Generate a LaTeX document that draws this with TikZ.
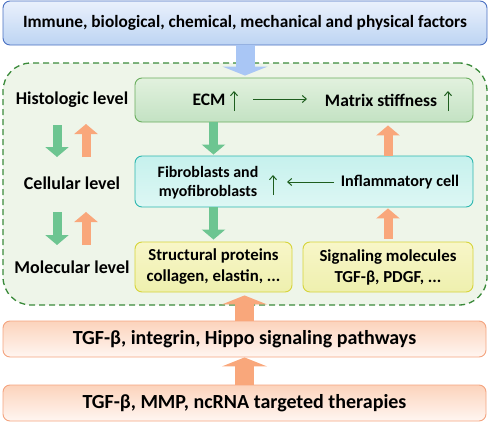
\documentclass[tikz,border=0pt]{standalone}
\usepackage{fontspec}
\setmainfont{Carlito}
\usetikzlibrary{arrows.meta,calc}
\definecolor{bluebd}{HTML}{4A70C2}
\definecolor{bluetop}{HTML}{EAF1FC}
\definecolor{bluebot}{HTML}{BDD4F3}
\definecolor{bluearr}{HTML}{A9C6F5}
\definecolor{regfill}{HTML}{EEF5E9}
\definecolor{regline}{HTML}{3A8A3A}
\definecolor{ecmbd}{HTML}{6AAE5E}
\definecolor{ecmtop}{HTML}{E2F1DE}
\definecolor{ecmbot}{HTML}{C3E2C3}
\definecolor{cyanbd}{HTML}{2DB7AF}
\definecolor{cyantop}{HTML}{C6F1ED}
\definecolor{cyanbot}{HTML}{DDF7F4}
\definecolor{yelbd}{HTML}{D6D43A}
\definecolor{yeltop}{HTML}{F8F6C8}
\definecolor{yelbot}{HTML}{EEF0AE}
\definecolor{orbd}{HTML}{F4A47F}
\definecolor{ortop}{HTML}{FCD3BC}
\definecolor{orbot}{HTML}{FFF6F1}
\definecolor{grarr}{HTML}{6DC591}
\definecolor{orarr}{HTML}{F9A77B}
\definecolor{thinar}{HTML}{1E5E1E}
\tikzset{
  base/.style={draw, rounded corners=7pt, line width=0.9pt, inner sep=0pt, align=center, font=\bfseries},
  bluebox/.style={base, draw=bluebd, top color=bluetop, bottom color=bluebot},
  ecmbox/.style={base, draw=ecmbd, top color=ecmtop, bottom color=ecmbot},
  cyanbox/.style={base, draw=cyanbd, top color=cyantop, bottom color=cyanbot},
  yelbox/.style={base, draw=yelbd, top color=yeltop, bottom color=yelbot},
  orbox/.style={base, draw=orbd, top color=ortop, bottom color=orbot},
  lbl/.style={inner sep=0pt, font=\bfseries\fontsize{18}{20}\selectfont},
  fatsmall/.style={line width=9pt, -{Triangle[width=23pt,length=10pt]}},
  fatbig/.style={line width=19pt, -{Triangle[width=45pt,length=9pt]}},
  thinarrow/.style={draw=thinar, line width=1pt, -{Straight Barb[length=4pt,width=7pt]}},
}
\begin{document}
\begin{tikzpicture}[x=1pt,y=-1pt]
\useasboundingbox (0,0) rectangle (491,423);
% dashed region
\node[draw=regline, fill=regfill, dashed, dash pattern=on 6pt off 4pt, line width=1.3pt,
      rounded corners=28pt, minimum width=484pt, minimum height=242pt] (region) at (245,184) {};
% boxes
\node[bluebox, minimum width=484pt, minimum height=44pt, font=\bfseries\fontsize{17.3}{20}\selectfont] (top) at (245,23) {Immune, biological, chemical, mechanical and physical factors};
\node[ecmbox, minimum width=338pt, minimum height=44pt] (ecm) at (304,100) {};
\node[cyanbox, minimum width=338pt, minimum height=51pt] (fib) at (304,181.5) {};
\node[yelbox, minimum width=157pt, minimum height=50pt, font=\bfseries\fontsize{16.8}{21}\selectfont] (struct) at (213.5,267) {\raisebox{-2pt}{\parbox{150pt}{\centering Structural proteins\\collagen, elastin, ...}}};
\node[yelbox, minimum width=170pt, minimum height=50pt, font=\bfseries\fontsize{16.8}{21}\selectfont] (signal) at (388,267) {\raisebox{-2pt}{\parbox{165pt}{\centering Signaling molecules\\TGF-β, PDGF, ...}}};
\node[orbox, minimum width=483pt, minimum height=36pt, font=\bfseries\fontsize{20}{22}\selectfont] (path) at (244.5,339) {TGF-β, integrin, Hippo signaling pathways};
\node[orbox, minimum width=483pt, minimum height=36pt, font=\bfseries\fontsize{20}{22}\selectfont] (ther) at (244.5,403) {TGF-β, MMP, ncRNA targeted therapies};
% level labels
\node[lbl] (hist) at (72,100) {Histologic level};
\node[lbl] (cell) at (72,183) {Cellular level};
\node[lbl] (mol) at (72,267) {Molecular level};
% texts in boxes
\node[lbl, font=\bfseries\fontsize{17.5}{20}\selectfont] (ecmt) at (209,100) {ECM};
\node[lbl, font=\bfseries\fontsize{17.5}{20}\selectfont] (mst) at (381,100) {Matrix stiffness};
\node[inner sep=0pt, align=center, font=\bfseries\fontsize{15.9}{19}\selectfont] (fibt) at (208,182.5) {Fibroblasts and\\myofibroblasts};
\node[inner sep=0pt, font=\bfseries\fontsize{16.2}{19}\selectfont] (inft) at (400,182) {Inflammatory cell};
% thin arrows
\coordinate (u1a) at (234,111); \coordinate (u1b) at (234,91);
\coordinate (u2a) at (448,111); \coordinate (u2b) at (448,91);
\coordinate (u3a) at (273,195); \coordinate (u3b) at (273,175);
\draw[thinarrow] (u1a) -- (u1b);
\draw[thinarrow] (u2a) -- (u2b);
\draw[thinarrow] (u3a) -- (u3b);
\coordinate (h1a) at (253,99); \coordinate (h1b) at (307,99);
\coordinate (h2a) at (334,182); \coordinate (h2b) at (287,182);
\draw[thinarrow] (h1a) -- (h1b);
\draw[thinarrow] (h2a) -- (h2b);
% fat arrows between boxes
\draw[fatbig, bluearr] (top.south) -- ($(top.south |- ecm.north)+(0,-2)$);
\draw[fatsmall, grarr] (ecm.south -| struct.north) -- ($(fib.north -| struct.north)+(0,-1)$);
\draw[fatsmall, grarr] (fib.south -| struct.north) -- ($(struct.north)+(0,-2)$);
\draw[fatsmall, orarr] ($(signal.north)+(0,-3)$) -- ($(fib.south -| signal.north)+(0,1)$);
\draw[fatsmall, orarr] (fib.north -| signal.north) -- ($(ecm.south -| signal.north)+(0,3)$);
\draw[fatbig, orarr] (path.north) -- ($(path.north |- struct.south)+(0,3)$);
\draw[fatbig, orarr] (ther.north) -- (path.south);
% left level arrows
\coordinate (g1a) at (57,125); \coordinate (g1b) at (57,157);
\coordinate (o1a) at (86,157); \coordinate (o1b) at (86,124);
\coordinate (g2a) at (57,212); \coordinate (g2b) at (57,245);
\coordinate (o2a) at (86,245); \coordinate (o2b) at (86,212);
\draw[fatsmall, grarr] (g1a) -- (g1b);
\draw[fatsmall, orarr] (o1a) -- (o1b);
\draw[fatsmall, grarr] (g2a) -- (g2b);
\draw[fatsmall, orarr] (o2a) -- (o2b);
\end{tikzpicture}
\end{document}
